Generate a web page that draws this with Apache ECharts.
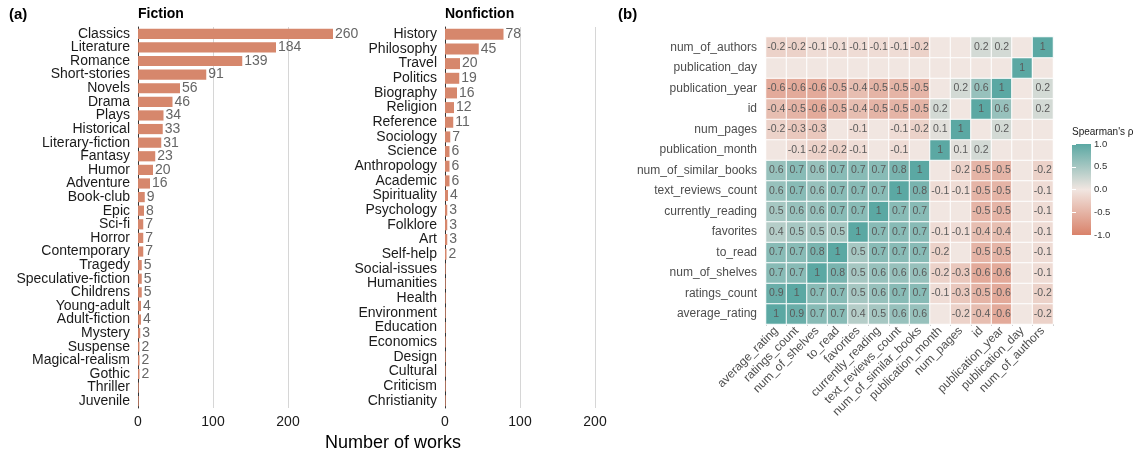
<!DOCTYPE html>
<html><head><meta charset="utf-8">
<script src="https://cdn.jsdelivr.net/npm/echarts@6/dist/echarts.min.js"></script>
<style>html,body{margin:0;padding:0;background:#fff}#c{width:1148px;height:455px}</style>
</head><body><div id="c"></div>
<script>
const fictionGenres = ['Classics','Literature','Romance','Short-stories','Novels','Drama','Plays','Historical','Literary-fiction','Fantasy','Humor','Adventure','Book-club','Epic','Sci-fi','Horror','Contemporary','Tragedy','Speculative-fiction','Childrens','Young-adult','Adult-fiction','Mystery','Suspense','Magical-realism','Gothic','Thriller','Juvenile'];
const fictionCounts = [260,184,139,91,56,46,34,33,31,23,20,16,9,8,7,7,7,5,5,5,4,4,3,2,2,2,1,1];
const nonfictionGenres = ['History','Philosophy','Travel','Politics','Biography','Religion','Reference','Sociology','Science','Anthropology','Academic','Spirituality','Psychology','Folklore','Art','Self-help','Social-issues','Humanities','Health','Environment','Education','Economics','Design','Cultural','Criticism','Christianity'];
const nonfictionCounts = [78,45,20,19,16,12,11,7,6,6,6,4,3,3,3,2,1,1,1,1,1,1,1,1,1,1];
const countTicks = [0,100,200];

const corrVars = ['average_rating','ratings_count','num_of_shelves','to_read','favorites','currently_reading','text_reviews_count','num_of_similar_books','publication_month','num_pages','id','publication_year','publication_day','num_of_authors'];
// rows/cols in corrVars order; 0 = not labelled (|rho| < 0.05)
const corrMatrix = [
  [1, 0.9, 0.7, 0.7, 0.4, 0.5, 0.6, 0.6, 0, -0.2, -0.4, -0.6, 0, -0.2],
  [0.9, 1, 0.7, 0.7, 0.5, 0.6, 0.7, 0.7, -0.1, -0.3, -0.5, -0.6, 0, -0.2],
  [0.7, 0.7, 1, 0.8, 0.5, 0.6, 0.6, 0.6, -0.2, -0.3, -0.6, -0.6, 0, -0.1],
  [0.7, 0.7, 0.8, 1, 0.5, 0.7, 0.7, 0.7, -0.2, 0, -0.5, -0.5, 0, -0.1],
  [0.4, 0.5, 0.5, 0.5, 1, 0.7, 0.7, 0.7, -0.1, -0.1, -0.4, -0.4, 0, -0.1],
  [0.5, 0.6, 0.6, 0.7, 0.7, 1, 0.7, 0.7, 0, 0, -0.5, -0.5, 0, -0.1],
  [0.6, 0.7, 0.6, 0.7, 0.7, 0.7, 1, 0.8, -0.1, -0.1, -0.5, -0.5, 0, -0.1],
  [0.6, 0.7, 0.6, 0.7, 0.7, 0.7, 0.8, 1, 0, -0.2, -0.5, -0.5, 0, -0.2],
  [0, -0.1, -0.2, -0.2, -0.1, 0, -0.1, 0, 1, 0.1, 0.2, 0, 0, 0],
  [-0.2, -0.3, -0.3, 0, -0.1, 0, -0.1, -0.2, 0.1, 1, 0, 0.2, 0, 0],
  [-0.4, -0.5, -0.6, -0.5, -0.4, -0.5, -0.5, -0.5, 0.2, 0, 1, 0.6, 0, 0.2],
  [-0.6, -0.6, -0.6, -0.5, -0.4, -0.5, -0.5, -0.5, 0, 0.2, 0.6, 1, 0, 0.2],
  [0, 0, 0, 0, 0, 0, 0, 0, 0, 0, 0, 0, 1, 0],
  [-0.2, -0.2, -0.1, -0.1, -0.1, -0.1, -0.1, -0.2, 0, 0, 0.2, 0.2, 0, 1]
];
const legendTicks = [-1, -0.5, 0, 0.5, 1];
const scaleColors = ['#D9826A', '#F1E6E1', '#5BA8A3'];

const FONT = '"Liberation Sans", Arial, sans-serif';
const BAR = '#D6876C';
const heatData = [];
corrMatrix.forEach((row, i) => row.forEach((v, j) => heatData.push([j, i, v])));

function countAxisX(gi) {
  return {
    type: 'value', gridIndex: gi, min: 0, max: 280, interval: 100,
    axisLine: {show: false}, axisTick: {show: false},
    splitLine: {show: true, showMinLine: false, showMaxLine: false, lineStyle: {color: '#d6d6d6', width: 1}},
    axisLabel: {showMaxLabel: false, color: '#1a1a1a', fontSize: 14, margin: 7,
      formatter: v => countTicks.includes(v) ? String(v) : ''}
  };
}
function genreAxisY(gi, data) {
  return {
    type: 'category', gridIndex: gi, data: data, inverse: true,
    axisLine: {show: true, lineStyle: {color: '#333', width: 1}},
    axisTick: {show: false}, splitLine: {show: false},
    axisLabel: {interval: 0, color: '#1a1a1a', fontSize: 14, margin: 8}
  };
}
function barSeries(idx, data) {
  return {
    type: 'bar', xAxisIndex: idx, yAxisIndex: idx, data: data,
    barCategoryGap: '25%', itemStyle: {color: BAR}, silent: true,
    label: {show: true, position: 'right', distance: 2, color: '#666', fontSize: 14,
      formatter: p => p.value > 1 ? String(p.value) : ''}
  };
}
function legendAxis(pos, showLabels) {
  return {type: 'value', gridIndex: 3, position: pos, min: -1, max: 1, interval: 0.5, z: 10,
    axisLine: {show: false}, splitLine: {show: false},
    axisTick: {show: true, inside: true, length: 4, lineStyle: {color: '#fff', width: 1}},
    axisLabel: {show: showLabels, color: '#333', fontSize: 9.5, margin: 3,
      formatter: v => legendTicks.includes(v) ? v.toFixed(1) : ''}};
}

const option = {
  animation: false,
  textStyle: {fontFamily: FONT},
  grid: [
    {left: 138, top: 27, width: 210, height: 381},
    {left: 445, top: 27, width: 210, height: 381},
    {left: 766, top: 37, width: 287, height: 287},
    {left: 1072, top: 144, width: 19, height: 91}
  ],
  xAxis: [
    countAxisX(0), countAxisX(1),
    {type: 'category', gridIndex: 2, data: corrVars,
      axisLine: {show: false}, axisTick: {show: true, length: 2, lineStyle: {color: '#d0d0d0'}},
      splitLine: {show: false},
      axisLabel: {interval: 0, rotate: 45, color: '#4d4d4d', fontSize: 12, margin: 5}},
    {type: 'value', gridIndex: 3, show: false, min: 0, max: 1}
  ],
  yAxis: [
    genreAxisY(0, fictionGenres), genreAxisY(1, nonfictionGenres),
    {type: 'category', gridIndex: 2, data: corrVars,
      axisLine: {show: false}, axisTick: {show: false}, splitLine: {show: false},
      axisLabel: {interval: 0, color: '#4d4d4d', fontSize: 12, margin: 9}},
    legendAxis('right', true),
    legendAxis('left', false)
  ],
  visualMap: {
    type: 'continuous', min: -1, max: 1, seriesIndex: 2, show: false,
    inRange: {color: scaleColors}
  },
  series: [
    barSeries(0, fictionCounts),
    barSeries(1, nonfictionCounts),
    {type: 'heatmap', xAxisIndex: 2, yAxisIndex: 2, data: heatData, silent: true,
      itemStyle: {borderColor: '#fff', borderWidth: 1},
      label: {show: true, color: '#5a5a5a', fontSize: 10.5,
        formatter: p => p.value[2] === 0 ? '' : String(p.value[2])},
      emphasis: {disabled: true}}
  ],
  graphic: [
    {type: 'text', left: 9, top: 7, style: {text: '(a)', font: 'bold 15px ' + FONT, fill: '#000'}},
    {type: 'text', left: 138, top: 7, style: {text: 'Fiction', font: 'bold 14px ' + FONT, fill: '#000'}},
    {type: 'text', left: 445, top: 7, style: {text: 'Nonfiction', font: 'bold 14px ' + FONT, fill: '#000'}},
    {type: 'text', left: 618, top: 7, style: {text: '(b)', font: 'bold 15px ' + FONT, fill: '#000'}},
    {type: 'text', x: 393, y: 443, style: {text: 'Number of works', font: '18px ' + FONT, fill: '#000', align: 'center', verticalAlign: 'middle'}},
    {type: 'text', left: 1072, top: 127, style: {text: "Spearman's \u03c1", font: '10px ' + FONT, fill: '#1a1a1a'}},
    {type: 'rect', z: 1, shape: {x: 1072, y: 144, width: 19, height: 91},
      style: {fill: new echarts.graphic.LinearGradient(0, 0, 0, 1, [
        {offset: 0, color: scaleColors[2]}, {offset: 0.5, color: scaleColors[1]}, {offset: 1, color: scaleColors[0]}])}}
  ]
};
echarts.init(document.getElementById('c'), null, {renderer: 'canvas'}).setOption(option);
</script>
</body></html>
